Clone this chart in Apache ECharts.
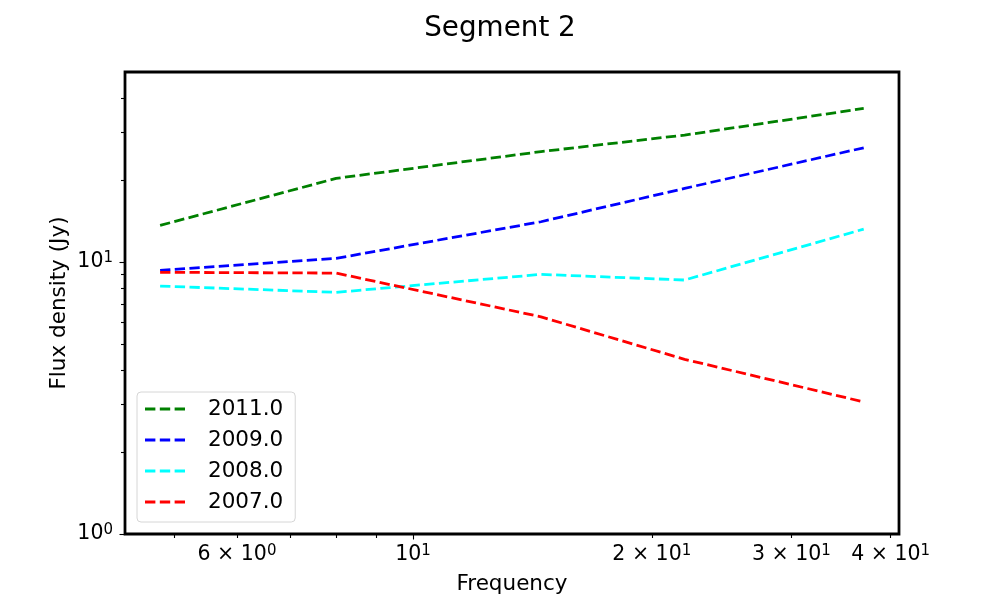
<!DOCTYPE html>
<html><head><meta charset="utf-8">
<script src="https://cdn.jsdelivr.net/npm/echarts@6/dist/echarts.min.js"></script>
<style>html,body{margin:0;padding:0;background:#fff}#c{width:1000px;height:600px}</style>
</head><body><div id="c"></div>
<script>
const frequencies = [4.8, 8.0, 14.5, 22.0, 37.0];
const flux2011 = [13.64, 20.31, 25.48, 29.31, 36.74];
const flux2009 = [9.32, 10.32, 14.07, 18.66, 26.32];
const flux2008 = [8.16, 7.74, 9.01, 8.59, 13.22];
const flux2007 = [9.17, 9.11, 6.29, 4.39, 3.06];
const seriesNames = ['2011.0', '2009.0', '2008.0', '2007.0'];
const seriesColors = ['#008000', '#0000ff', '#00ffff', '#ff0000'];
const xLabelTicks = [6, 10, 20, 30, 40];
const xLabelMantissa = ['6 × 10', '10', '2 × 10', '3 × 10', '4 × 10'];
const xLabelExponent = ['0', '1', '1', '1', '1'];
const xMinorTicks = [5, 6, 7, 8, 9, 20, 30, 40];
const xMajorTicks = [10];
const yMajorTicks = [1, 10];
const yLabelMantissa = ['10', '10'];
const yLabelExponent = ['0', '1'];
const yMinorTicks = [2, 3, 4, 5, 6, 7, 8, 9, 20, 30, 40];

const FONT = 'DejaVu Sans';
const seriesValues = [flux2011, flux2009, flux2008, flux2007];
const DASH_ICON = 'path://M0,0H10.3V2.78H0Z M14.7,0H25V2.78H14.7Z M29.4,0H39.7V2.78H29.4Z';

function findIdx(arr, v) {
  for (let i = 0; i < arr.length; i++) if (Math.abs(arr[i] - v) < 1e-6 * arr[i]) return i;
  return -1;
}
const rich = {
  b: { fontSize: 20.5, fontFamily: FONT, color: '#000', lineHeight: 22 },
  s: { fontSize: 15, fontFamily: FONT, color: '#000', lineHeight: 8, verticalAlign: 'top' }
};
function xFmt(v) {
  const i = findIdx(xLabelTicks, v);
  return i < 0 ? '' : '{b|' + xLabelMantissa[i] + '}{s|' + xLabelExponent[i] + '}';
}
function yFmt(v) {
  const i = findIdx(yMajorTicks, v);
  return i < 0 ? '' : '{b|' + yLabelMantissa[i] + '}{s|' + yLabelExponent[i] + '}';
}
const tickStyle = { color: '#000', width: 1.1 };
const nameStyle = { fontSize: 21.5, fontFamily: FONT, color: '#000' };

const option = {
  animation: false,
  backgroundColor: '#fff',
  title: {
    text: 'Segment 2', left: 'center', top: 10,
    textStyle: { fontSize: 27.8, fontWeight: 'normal', fontFamily: FONT, color: '#000' }
  },
  grid: {
    left: 125, top: 72, width: 774, height: 462,
    show: true, borderColor: '#000', borderWidth: 2.78, backgroundColor: 'transparent'
  },
  legend: {
    orient: 'vertical', left: 137, top: 392,
    padding: [6, 12, 9, 8],
    backgroundColor: 'rgba(255,255,255,0.8)',
    borderColor: '#d6d6d6', borderWidth: 1, borderRadius: 4,
    itemWidth: 40, itemHeight: 14, itemGap: 9,
    icon: DASH_ICON,
    data: seriesNames,
    textStyle: { fontSize: 21.5, fontFamily: FONT, color: '#000', lineHeight: 22, padding: [0, 0, 0, 18] }
  },
  xAxis: [
    {
      type: 'log', logBase: 10, min: 4.335, max: 40.99, position: 'bottom',
      axisLine: { show: false },
      axisTick: { show: true, customValues: xMinorTicks, length: 4, lineStyle: tickStyle },
      axisLabel: { customValues: xLabelTicks, formatter: xFmt, rich: rich, margin: 10 },
      splitLine: { show: false },
      name: 'Frequency', nameLocation: 'middle', nameGap: 39, nameTextStyle: nameStyle
    },
    {
      type: 'log', logBase: 10, min: 4.335, max: 40.99, position: 'bottom',
      axisLine: { show: false },
      axisTick: { show: true, customValues: xMajorTicks, length: 5.5, lineStyle: tickStyle },
      axisLabel: { show: false },
      splitLine: { show: false }
    }
  ],
  yAxis: [
    {
      type: 'log', logBase: 10, min: 1, max: 50, position: 'left',
      axisLine: { show: false },
      axisTick: { show: true, customValues: yMinorTicks, length: 4, lineStyle: tickStyle },
      axisLabel: { customValues: yMajorTicks, formatter: yFmt, rich: rich, margin: 12 },
      splitLine: { show: false },
      name: 'Flux density (Jy)', nameLocation: 'middle', nameGap: 55, nameRotate: 90,
      nameMoveOverlap: false, nameTextStyle: nameStyle
    },
    {
      type: 'log', logBase: 10, min: 1, max: 50, position: 'left',
      axisLine: { show: false },
      axisTick: { show: true, customValues: yMajorTicks, length: 5.5, lineStyle: tickStyle },
      axisLabel: { show: false },
      splitLine: { show: false }
    }
  ],
  series: seriesNames.map((name, k) => ({
    name: name, type: 'line', xAxisIndex: 0, yAxisIndex: 0,
    symbol: 'none', showSymbol: false,
    lineStyle: { color: seriesColors[k], width: 2.78, type: [10.3, 4.4] },
    itemStyle: { color: seriesColors[k] },
    data: frequencies.map((f, i) => [f, seriesValues[k][i]])
  }))
};
const chart = echarts.init(document.getElementById('c'), null, { renderer: 'canvas' });
chart.setOption(option);
</script>
</body></html>
